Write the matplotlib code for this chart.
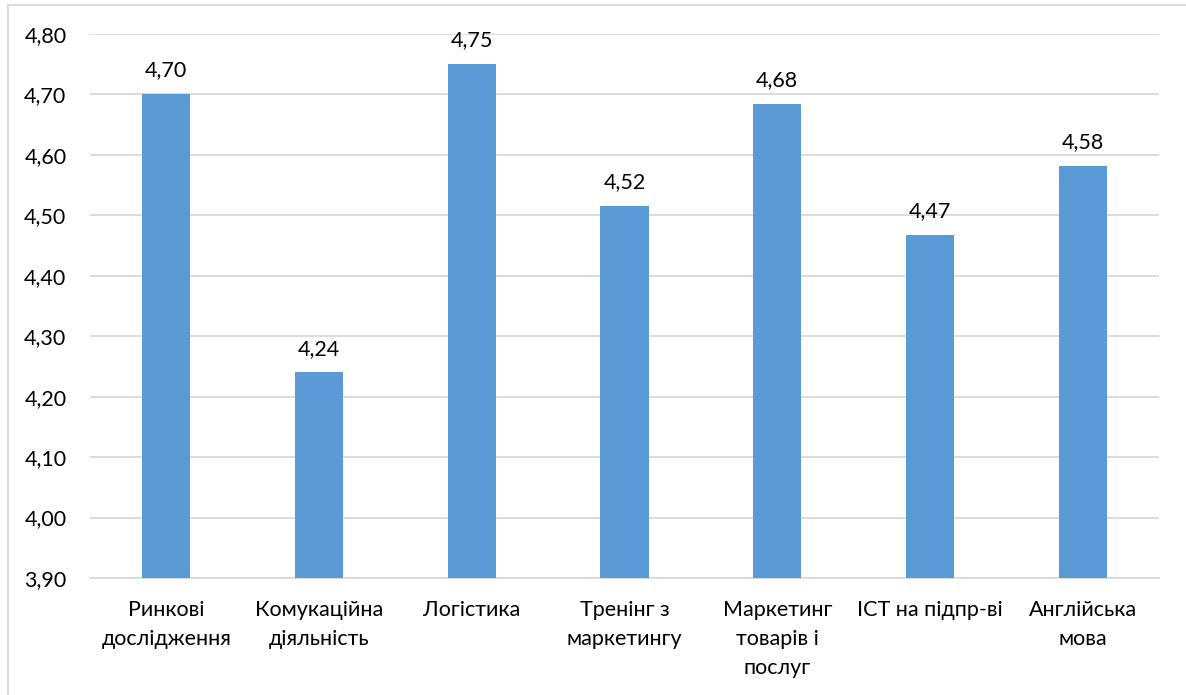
import matplotlib.pyplot as plt
from matplotlib.lines import Line2D

# Data
categories = [
    "Ринкові\nдослідження",
    "Комукаційна\nдіяльність",
    "Логістика",
    "Тренінг з\nмаркетингу",
    "Маркетинг\nтоварів і\nпослуг",
    "ICT на підпр-ві",
    "Англійська\nмова",
]
values = [4.70, 4.24, 4.75, 4.516, 4.684, 4.468, 4.581]
y_ticks = [3.9, 4.0, 4.1, 4.2, 4.3, 4.4, 4.5, 4.6, 4.7, 4.8]

W, H = 1186, 695
plt.rcParams["font.family"] = ["Lato", "DejaVu Sans"]

fig = plt.figure(figsize=(W / 100, H / 100), dpi=100)
ax = fig.add_axes([90 / W, 1 - 578 / H, (1159 - 90) / W, (578 - 34) / H])

x = range(len(categories))
ax.bar(x, values, width=0.315, color="#5B9BD5", zorder=3)
ax.set_ylim(3.9, 4.8)
ax.set_xlim(-0.5, len(categories) - 0.5)
ax.set_yticks(y_ticks)
ax.set_yticklabels([f"{v:.2f}".replace(".", ",") for v in y_ticks],
                   fontsize=15.5, color="#000000")
ax.set_xticks(list(x))
ax.set_xticklabels(categories, fontsize=15.5, color="#000000",
                   linespacing=1.55, va="top")
ax.tick_params(axis="both", length=0)
ax.tick_params(axis="y", pad=17)
ax.tick_params(axis="x", pad=16)
ax.grid(axis="y", color="#D9D9D9", linewidth=1.3, zorder=0)
for side in ("top", "right", "left"):
    ax.spines[side].set_visible(False)
ax.spines["bottom"].set_color("#D9D9D9")
ax.spines["bottom"].set_linewidth(1.3)

for xi, v in zip(x, values):
    ax.annotate(f"{v:.2f}".replace(".", ","), (xi, v), xytext=(0, 10),
                textcoords="offset points", ha="center", va="bottom",
                fontsize=15.5, color="#000000")

# chart-area border (left and top edges visible in the crop)
fig.add_artist(Line2D([7.5 / W, 7.5 / W], [0, 1 - 4.5 / H],
                      transform=fig.transFigure, color="#D9D9D9", lw=1.3))
fig.add_artist(Line2D([7.5 / W, 1], [1 - 4.5 / H, 1 - 4.5 / H],
                      transform=fig.transFigure, color="#D9D9D9", lw=1.3))

fig.savefig("out.png", dpi=100)
